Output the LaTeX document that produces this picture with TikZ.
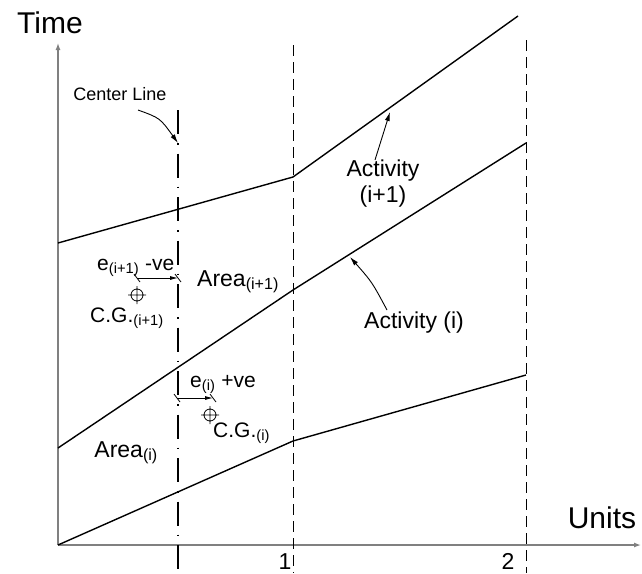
\documentclass[tikz,border=0pt]{standalone}
\usepackage{fontspec}
\setmainfont{Liberation Sans}
\usetikzlibrary{arrows.meta}

\begin{document}
\begin{tikzpicture}[x=1pt, y=-1pt,
    axis/.style={draw=gray, line width=1.3pt, -{Latex[length=7pt,width=5pt]}},
    activity/.style={line width=1.4pt, line join=round},
    unitline/.style={line width=1pt, dash pattern=on 11pt off 6pt},
    centerline/.style={line width=1.1pt, dash pattern=on 24pt off 9pt on 1.5pt off 9pt},
    pointer/.style={line width=0.9pt, -{Latex[length=9pt,width=5pt]}},
    dim/.style={line width=0.8pt, -{Latex[length=8pt,width=4pt]}},
    big/.style={font=\fontsize{30}{36}\selectfont, inner sep=0pt},
    lbl/.style={font=\fontsize{23}{26}\selectfont, inner sep=0pt},
    note/.style={font=\fontsize{21}{24}\selectfont, inner sep=0pt}]
    \useasboundingbox (0,0) rectangle (642,573);
    % axes
    \coordinate (O) at (58,545);
    \coordinate (ytop) at (58,43);
    \coordinate (xend) at (641,545);
    \draw[axis] (O) -- (ytop);
    \draw[axis] (O) -- (xend);
    \node[big] (time) at (50,23) {Time};
    \node[big] (units) at (602,518) {Units};
    % unit lines
    \coordinate (u1top) at (293,45);
    \coordinate (u1bot) at (293,573);
    \coordinate (u2top) at (526,40);
    \coordinate (u2bot) at (526,573);
    \draw[unitline] (u1top) -- (u1bot);
    \draw[unitline] (u2top) -- (u2bot);
    \node[lbl, anchor=base] (one) at (285,569) {1};
    \node[lbl, anchor=base] (two) at (508,569) {2};
    % center line
    \coordinate (cltop) at (178,110);
    \coordinate (clbot) at (178,573);
    \draw[centerline] (cltop) -- (clbot);
    \node[font=\fontsize{18}{22}\selectfont, inner sep=0pt] (cltext) at (120,94) {Center Line};
    \coordinate (cltail) at (138,110);
    \coordinate (clhead) at (178,143);
    \draw[pointer] (cltail) .. controls (160,118) .. (clhead);
    % activity lines
    \coordinate (a0) at (58,545);
    \coordinate (a1) at (293,441);
    \coordinate (a2) at (526,375);
    \coordinate (b0) at (58,448);
    \coordinate (b1) at (293,290);
    \coordinate (b2) at (526,143);
    \coordinate (c0) at (58,243);
    \coordinate (c1) at (293,177);
    \coordinate (c2) at (518,16);
    \draw[activity] (a0) -- (a1) -- (a2);
    \draw[activity] (b0) -- (b1) -- (b2);
    \draw[activity] (c0) -- (c1) -- (c2);
    % activity labels
    \node[lbl, align=center] (actnext) at (383,184) {Activity\\(i+1)};
    \coordinate (actnexttail) at (375,160);
    \coordinate (actnexthead) at (390,112);
    \draw[pointer] (actnexttail) -- (actnexthead);
    \node[lbl] (act) at (414,323) {Activity (i)};
    \coordinate (acttail) at (387,310);
    \coordinate (acthead) at (350,257);
    \draw[pointer] (acttail) .. controls (372,282) .. (acthead);
    % areas
    \node[lbl, anchor=base west] (areanext) at (197,286) {Area\textsubscript{(i+1)}};
    \node[lbl, anchor=base east] (area) at (158,457) {Area\textsubscript{(i)}};
    % eccentricity (i+1)
    \node[note, anchor=base west] (enext) at (97,270) {e\textsubscript{(i+1)} -ve};
    \coordinate (enl) at (137,278);
    \coordinate (enr) at (178,278);
    \draw[dim] (enl) -- (enr);
    \draw[line width=0.8pt] (enl) ++(-3,-4) -- ++(6,8) (enr) ++(-3,-4) -- ++(6,8);
    \coordinate (cgnext) at (137,295);
    \draw[line width=0.8pt] (cgnext) circle[radius=6] (cgnext) ++(-9,0) -- ++(18,0) (cgnext) ++(0,-9) -- ++(0,18);
    \node[note, anchor=base west] (cgnexttext) at (90,322) {C.G.\textsubscript{(i+1)}};
    % eccentricity (i)
    \node[note, anchor=base west] (ei) at (190,387) {e\textsubscript{(i)} +ve};
    \coordinate (eil) at (177,398);
    \coordinate (eir) at (213,398);
    \draw[dim] (eil) -- (eir);
    \draw[line width=0.8pt] (eil) ++(-3,-4) -- ++(6,8) (eir) ++(-3,-4) -- ++(6,8);
    \coordinate (cgi) at (210,415);
    \draw[line width=0.8pt] (cgi) circle[radius=6] (cgi) ++(-9,0) -- ++(18,0) (cgi) ++(0,-9) -- ++(0,18);
    \node[note, anchor=base west] (cgitext) at (213,437) {C.G.\textsubscript{(i)}};
\end{tikzpicture}
\end{document}
